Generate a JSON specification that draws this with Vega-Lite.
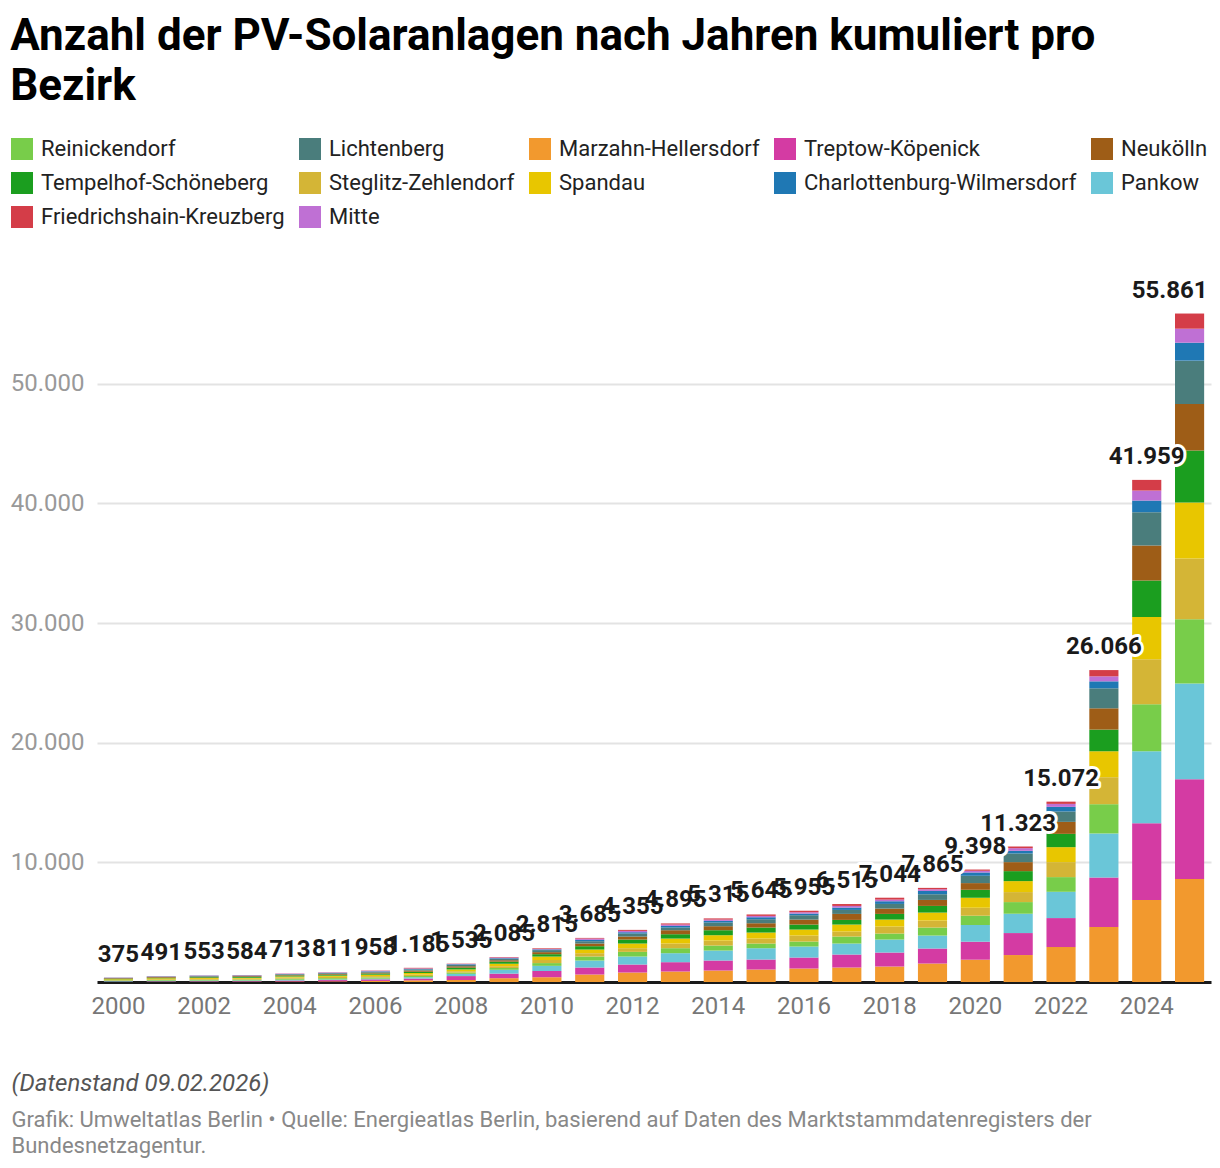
{
"$schema":"https://vega.github.io/schema/vega-lite/v6.json",
"width":1114,"height":718,
"padding":{"left":10,"top":15,"right":10,"bottom":10},
"autosize":{"type":"pad"},
"background":"white",
"title":{"text":["Anzahl der PV-Solaranlagen nach Jahren kumuliert pro","Bezirk"],"anchor":"start","frame":"bounds","font":"Roboto","fontSize":44,"fontWeight":"bold","color":"#000000","lineHeight":50,"offset":29},
"data":{"values":[
{"Jahr":2000,"Bezirk":"Marzahn-Hellersdorf","Anzahl":15},{"Jahr":2000,"Bezirk":"Treptow-Köpenick","Anzahl":20},{"Jahr":2000,"Bezirk":"Pankow","Anzahl":45},{"Jahr":2000,"Bezirk":"Reinickendorf","Anzahl":50},{"Jahr":2000,"Bezirk":"Steglitz-Zehlendorf","Anzahl":40},{"Jahr":2000,"Bezirk":"Spandau","Anzahl":60},{"Jahr":2000,"Bezirk":"Tempelhof-Schöneberg","Anzahl":40},{"Jahr":2000,"Bezirk":"Neukölln","Anzahl":50},{"Jahr":2000,"Bezirk":"Lichtenberg","Anzahl":25},{"Jahr":2000,"Bezirk":"Charlottenburg-Wilmersdorf","Anzahl":10},{"Jahr":2000,"Bezirk":"Mitte","Anzahl":15},{"Jahr":2000,"Bezirk":"Friedrichshain-Kreuzberg","Anzahl":5},
{"Jahr":2001,"Bezirk":"Marzahn-Hellersdorf","Anzahl":20},{"Jahr":2001,"Bezirk":"Treptow-Köpenick","Anzahl":40},{"Jahr":2001,"Bezirk":"Pankow","Anzahl":50},{"Jahr":2001,"Bezirk":"Reinickendorf","Anzahl":60},{"Jahr":2001,"Bezirk":"Steglitz-Zehlendorf","Anzahl":60},{"Jahr":2001,"Bezirk":"Spandau","Anzahl":80},{"Jahr":2001,"Bezirk":"Tempelhof-Schöneberg","Anzahl":50},{"Jahr":2001,"Bezirk":"Neukölln","Anzahl":60},{"Jahr":2001,"Bezirk":"Lichtenberg","Anzahl":30},{"Jahr":2001,"Bezirk":"Charlottenburg-Wilmersdorf","Anzahl":15},{"Jahr":2001,"Bezirk":"Mitte","Anzahl":18},{"Jahr":2001,"Bezirk":"Friedrichshain-Kreuzberg","Anzahl":8},
{"Jahr":2002,"Bezirk":"Marzahn-Hellersdorf","Anzahl":20},{"Jahr":2002,"Bezirk":"Treptow-Köpenick","Anzahl":45},{"Jahr":2002,"Bezirk":"Pankow","Anzahl":55},{"Jahr":2002,"Bezirk":"Reinickendorf","Anzahl":70},{"Jahr":2002,"Bezirk":"Steglitz-Zehlendorf","Anzahl":70},{"Jahr":2002,"Bezirk":"Spandau","Anzahl":80},{"Jahr":2002,"Bezirk":"Tempelhof-Schöneberg","Anzahl":60},{"Jahr":2002,"Bezirk":"Neukölln","Anzahl":50},{"Jahr":2002,"Bezirk":"Lichtenberg","Anzahl":50},{"Jahr":2002,"Bezirk":"Charlottenburg-Wilmersdorf","Anzahl":25},{"Jahr":2002,"Bezirk":"Mitte","Anzahl":20},{"Jahr":2002,"Bezirk":"Friedrichshain-Kreuzberg","Anzahl":8},
{"Jahr":2003,"Bezirk":"Marzahn-Hellersdorf","Anzahl":22},{"Jahr":2003,"Bezirk":"Treptow-Köpenick","Anzahl":50},{"Jahr":2003,"Bezirk":"Pankow","Anzahl":60},{"Jahr":2003,"Bezirk":"Reinickendorf","Anzahl":70},{"Jahr":2003,"Bezirk":"Steglitz-Zehlendorf","Anzahl":70},{"Jahr":2003,"Bezirk":"Spandau","Anzahl":80},{"Jahr":2003,"Bezirk":"Tempelhof-Schöneberg","Anzahl":65},{"Jahr":2003,"Bezirk":"Neukölln","Anzahl":65},{"Jahr":2003,"Bezirk":"Lichtenberg","Anzahl":45},{"Jahr":2003,"Bezirk":"Charlottenburg-Wilmersdorf","Anzahl":20},{"Jahr":2003,"Bezirk":"Mitte","Anzahl":25},{"Jahr":2003,"Bezirk":"Friedrichshain-Kreuzberg","Anzahl":12},
{"Jahr":2004,"Bezirk":"Marzahn-Hellersdorf","Anzahl":40},{"Jahr":2004,"Bezirk":"Treptow-Köpenick","Anzahl":80},{"Jahr":2004,"Bezirk":"Pankow","Anzahl":70},{"Jahr":2004,"Bezirk":"Reinickendorf","Anzahl":90},{"Jahr":2004,"Bezirk":"Steglitz-Zehlendorf","Anzahl":100},{"Jahr":2004,"Bezirk":"Spandau","Anzahl":80},{"Jahr":2004,"Bezirk":"Tempelhof-Schöneberg","Anzahl":80},{"Jahr":2004,"Bezirk":"Neukölln","Anzahl":60},{"Jahr":2004,"Bezirk":"Lichtenberg","Anzahl":50},{"Jahr":2004,"Bezirk":"Charlottenburg-Wilmersdorf","Anzahl":20},{"Jahr":2004,"Bezirk":"Mitte","Anzahl":30},{"Jahr":2004,"Bezirk":"Friedrichshain-Kreuzberg","Anzahl":13},
{"Jahr":2005,"Bezirk":"Marzahn-Hellersdorf","Anzahl":50},{"Jahr":2005,"Bezirk":"Treptow-Köpenick","Anzahl":110},{"Jahr":2005,"Bezirk":"Pankow","Anzahl":60},{"Jahr":2005,"Bezirk":"Reinickendorf","Anzahl":100},{"Jahr":2005,"Bezirk":"Steglitz-Zehlendorf","Anzahl":110},{"Jahr":2005,"Bezirk":"Spandau","Anzahl":100},{"Jahr":2005,"Bezirk":"Tempelhof-Schöneberg","Anzahl":80},{"Jahr":2005,"Bezirk":"Neukölln","Anzahl":70},{"Jahr":2005,"Bezirk":"Lichtenberg","Anzahl":60},{"Jahr":2005,"Bezirk":"Charlottenburg-Wilmersdorf","Anzahl":25},{"Jahr":2005,"Bezirk":"Mitte","Anzahl":30},{"Jahr":2005,"Bezirk":"Friedrichshain-Kreuzberg","Anzahl":16},
{"Jahr":2006,"Bezirk":"Marzahn-Hellersdorf","Anzahl":90},{"Jahr":2006,"Bezirk":"Treptow-Köpenick","Anzahl":130},{"Jahr":2006,"Bezirk":"Pankow","Anzahl":60},{"Jahr":2006,"Bezirk":"Reinickendorf","Anzahl":100},{"Jahr":2006,"Bezirk":"Steglitz-Zehlendorf","Anzahl":110},{"Jahr":2006,"Bezirk":"Spandau","Anzahl":120},{"Jahr":2006,"Bezirk":"Tempelhof-Schöneberg","Anzahl":100},{"Jahr":2006,"Bezirk":"Neukölln","Anzahl":70},{"Jahr":2006,"Bezirk":"Lichtenberg","Anzahl":80},{"Jahr":2006,"Bezirk":"Charlottenburg-Wilmersdorf","Anzahl":35},{"Jahr":2006,"Bezirk":"Mitte","Anzahl":40},{"Jahr":2006,"Bezirk":"Friedrichshain-Kreuzberg","Anzahl":23},
{"Jahr":2007,"Bezirk":"Marzahn-Hellersdorf","Anzahl":140},{"Jahr":2007,"Bezirk":"Treptow-Köpenick","Anzahl":150},{"Jahr":2007,"Bezirk":"Pankow","Anzahl":110},{"Jahr":2007,"Bezirk":"Reinickendorf","Anzahl":100},{"Jahr":2007,"Bezirk":"Steglitz-Zehlendorf","Anzahl":120},{"Jahr":2007,"Bezirk":"Spandau","Anzahl":130},{"Jahr":2007,"Bezirk":"Tempelhof-Schöneberg","Anzahl":110},{"Jahr":2007,"Bezirk":"Neukölln","Anzahl":100},{"Jahr":2007,"Bezirk":"Lichtenberg","Anzahl":90},{"Jahr":2007,"Bezirk":"Charlottenburg-Wilmersdorf","Anzahl":50},{"Jahr":2007,"Bezirk":"Mitte","Anzahl":35},{"Jahr":2007,"Bezirk":"Friedrichshain-Kreuzberg","Anzahl":50},
{"Jahr":2008,"Bezirk":"Marzahn-Hellersdorf","Anzahl":165},{"Jahr":2008,"Bezirk":"Treptow-Köpenick","Anzahl":330},{"Jahr":2008,"Bezirk":"Pankow","Anzahl":185},{"Jahr":2008,"Bezirk":"Reinickendorf","Anzahl":110},{"Jahr":2008,"Bezirk":"Steglitz-Zehlendorf","Anzahl":110},{"Jahr":2008,"Bezirk":"Spandau","Anzahl":150},{"Jahr":2008,"Bezirk":"Tempelhof-Schöneberg","Anzahl":145},{"Jahr":2008,"Bezirk":"Neukölln","Anzahl":120},{"Jahr":2008,"Bezirk":"Lichtenberg","Anzahl":120},{"Jahr":2008,"Bezirk":"Charlottenburg-Wilmersdorf","Anzahl":50},{"Jahr":2008,"Bezirk":"Mitte","Anzahl":25},{"Jahr":2008,"Bezirk":"Friedrichshain-Kreuzberg","Anzahl":25},
{"Jahr":2009,"Bezirk":"Marzahn-Hellersdorf","Anzahl":320},{"Jahr":2009,"Bezirk":"Treptow-Köpenick","Anzahl":380},{"Jahr":2009,"Bezirk":"Pankow","Anzahl":320},{"Jahr":2009,"Bezirk":"Reinickendorf","Anzahl":150},{"Jahr":2009,"Bezirk":"Steglitz-Zehlendorf","Anzahl":150},{"Jahr":2009,"Bezirk":"Spandau","Anzahl":205},{"Jahr":2009,"Bezirk":"Tempelhof-Schöneberg","Anzahl":175},{"Jahr":2009,"Bezirk":"Neukölln","Anzahl":120},{"Jahr":2009,"Bezirk":"Lichtenberg","Anzahl":115},{"Jahr":2009,"Bezirk":"Charlottenburg-Wilmersdorf","Anzahl":55},{"Jahr":2009,"Bezirk":"Mitte","Anzahl":55},{"Jahr":2009,"Bezirk":"Friedrichshain-Kreuzberg","Anzahl":40},
{"Jahr":2010,"Bezirk":"Marzahn-Hellersdorf","Anzahl":400},{"Jahr":2010,"Bezirk":"Treptow-Köpenick","Anzahl":520},{"Jahr":2010,"Bezirk":"Pankow","Anzahl":430},{"Jahr":2010,"Bezirk":"Reinickendorf","Anzahl":230},{"Jahr":2010,"Bezirk":"Steglitz-Zehlendorf","Anzahl":260},{"Jahr":2010,"Bezirk":"Spandau","Anzahl":285},{"Jahr":2010,"Bezirk":"Tempelhof-Schöneberg","Anzahl":200},{"Jahr":2010,"Bezirk":"Neukölln","Anzahl":170},{"Jahr":2010,"Bezirk":"Lichtenberg","Anzahl":170},{"Jahr":2010,"Bezirk":"Charlottenburg-Wilmersdorf","Anzahl":60},{"Jahr":2010,"Bezirk":"Mitte","Anzahl":35},{"Jahr":2010,"Bezirk":"Friedrichshain-Kreuzberg","Anzahl":55},
{"Jahr":2011,"Bezirk":"Marzahn-Hellersdorf","Anzahl":626},{"Jahr":2011,"Bezirk":"Treptow-Köpenick","Anzahl":584},{"Jahr":2011,"Bezirk":"Pankow","Anzahl":585},{"Jahr":2011,"Bezirk":"Reinickendorf","Anzahl":334},{"Jahr":2011,"Bezirk":"Steglitz-Zehlendorf","Anzahl":278},{"Jahr":2011,"Bezirk":"Spandau","Anzahl":306},{"Jahr":2011,"Bezirk":"Tempelhof-Schöneberg","Anzahl":278},{"Jahr":2011,"Bezirk":"Neukölln","Anzahl":223},{"Jahr":2011,"Bezirk":"Lichtenberg","Anzahl":195},{"Jahr":2011,"Bezirk":"Charlottenburg-Wilmersdorf","Anzahl":111},{"Jahr":2011,"Bezirk":"Mitte","Anzahl":111},{"Jahr":2011,"Bezirk":"Friedrichshain-Kreuzberg","Anzahl":54},
{"Jahr":2012,"Bezirk":"Marzahn-Hellersdorf","Anzahl":793},{"Jahr":2012,"Bezirk":"Treptow-Köpenick","Anzahl":668},{"Jahr":2012,"Bezirk":"Pankow","Anzahl":668},{"Jahr":2012,"Bezirk":"Reinickendorf","Anzahl":389},{"Jahr":2012,"Bezirk":"Steglitz-Zehlendorf","Anzahl":306},{"Jahr":2012,"Bezirk":"Spandau","Anzahl":390},{"Jahr":2012,"Bezirk":"Tempelhof-Schöneberg","Anzahl":333},{"Jahr":2012,"Bezirk":"Neukölln","Anzahl":251},{"Jahr":2012,"Bezirk":"Lichtenberg","Anzahl":250},{"Jahr":2012,"Bezirk":"Charlottenburg-Wilmersdorf","Anzahl":112},{"Jahr":2012,"Bezirk":"Mitte","Anzahl":111},{"Jahr":2012,"Bezirk":"Friedrichshain-Kreuzberg","Anzahl":84},
{"Jahr":2013,"Bezirk":"Marzahn-Hellersdorf","Anzahl":876},{"Jahr":2013,"Bezirk":"Treptow-Köpenick","Anzahl":780},{"Jahr":2013,"Bezirk":"Pankow","Anzahl":751},{"Jahr":2013,"Bezirk":"Reinickendorf","Anzahl":417},{"Jahr":2013,"Bezirk":"Steglitz-Zehlendorf","Anzahl":390},{"Jahr":2013,"Bezirk":"Spandau","Anzahl":417},{"Jahr":2013,"Bezirk":"Tempelhof-Schöneberg","Anzahl":362},{"Jahr":2013,"Bezirk":"Neukölln","Anzahl":334},{"Jahr":2013,"Bezirk":"Lichtenberg","Anzahl":222},{"Jahr":2013,"Bezirk":"Charlottenburg-Wilmersdorf","Anzahl":139},{"Jahr":2013,"Bezirk":"Mitte","Anzahl":112},{"Jahr":2013,"Bezirk":"Friedrichshain-Kreuzberg","Anzahl":95},
{"Jahr":2014,"Bezirk":"Marzahn-Hellersdorf","Anzahl":960},{"Jahr":2014,"Bezirk":"Treptow-Köpenick","Anzahl":835},{"Jahr":2014,"Bezirk":"Pankow","Anzahl":834},{"Jahr":2014,"Bezirk":"Reinickendorf","Anzahl":418},{"Jahr":2014,"Bezirk":"Steglitz-Zehlendorf","Anzahl":417},{"Jahr":2014,"Bezirk":"Spandau","Anzahl":446},{"Jahr":2014,"Bezirk":"Tempelhof-Schöneberg","Anzahl":417},{"Jahr":2014,"Bezirk":"Neukölln","Anzahl":334},{"Jahr":2014,"Bezirk":"Lichtenberg","Anzahl":306},{"Jahr":2014,"Bezirk":"Charlottenburg-Wilmersdorf","Anzahl":139},{"Jahr":2014,"Bezirk":"Mitte","Anzahl":111},{"Jahr":2014,"Bezirk":"Friedrichshain-Kreuzberg","Anzahl":98},
{"Jahr":2015,"Bezirk":"Marzahn-Hellersdorf","Anzahl":1043},{"Jahr":2015,"Bezirk":"Treptow-Köpenick","Anzahl":835},{"Jahr":2015,"Bezirk":"Pankow","Anzahl":946},{"Jahr":2015,"Bezirk":"Reinickendorf","Anzahl":390},{"Jahr":2015,"Bezirk":"Steglitz-Zehlendorf","Anzahl":417},{"Jahr":2015,"Bezirk":"Spandau","Anzahl":501},{"Jahr":2015,"Bezirk":"Tempelhof-Schöneberg","Anzahl":417},{"Jahr":2015,"Bezirk":"Neukölln","Anzahl":362},{"Jahr":2015,"Bezirk":"Lichtenberg","Anzahl":334},{"Jahr":2015,"Bezirk":"Charlottenburg-Wilmersdorf","Anzahl":167},{"Jahr":2015,"Bezirk":"Mitte","Anzahl":111},{"Jahr":2015,"Bezirk":"Friedrichshain-Kreuzberg","Anzahl":122},
{"Jahr":2016,"Bezirk":"Marzahn-Hellersdorf","Anzahl":1127},{"Jahr":2016,"Bezirk":"Treptow-Köpenick","Anzahl":918},{"Jahr":2016,"Bezirk":"Pankow","Anzahl":918},{"Jahr":2016,"Bezirk":"Reinickendorf","Anzahl":418},{"Jahr":2016,"Bezirk":"Steglitz-Zehlendorf","Anzahl":500},{"Jahr":2016,"Bezirk":"Spandau","Anzahl":501},{"Jahr":2016,"Bezirk":"Tempelhof-Schöneberg","Anzahl":418},{"Jahr":2016,"Bezirk":"Neukölln","Anzahl":417},{"Jahr":2016,"Bezirk":"Lichtenberg","Anzahl":362},{"Jahr":2016,"Bezirk":"Charlottenburg-Wilmersdorf","Anzahl":139},{"Jahr":2016,"Bezirk":"Mitte","Anzahl":111},{"Jahr":2016,"Bezirk":"Friedrichshain-Kreuzberg","Anzahl":126},
{"Jahr":2017,"Bezirk":"Marzahn-Hellersdorf","Anzahl":1210},{"Jahr":2017,"Bezirk":"Treptow-Köpenick","Anzahl":1085},{"Jahr":2017,"Bezirk":"Pankow","Anzahl":919},{"Jahr":2017,"Bezirk":"Reinickendorf","Anzahl":584},{"Jahr":2017,"Bezirk":"Steglitz-Zehlendorf","Anzahl":417},{"Jahr":2017,"Bezirk":"Spandau","Anzahl":585},{"Jahr":2017,"Bezirk":"Tempelhof-Schöneberg","Anzahl":389},{"Jahr":2017,"Bezirk":"Neukölln","Anzahl":501},{"Jahr":2017,"Bezirk":"Lichtenberg","Anzahl":334},{"Jahr":2017,"Bezirk":"Charlottenburg-Wilmersdorf","Anzahl":195},{"Jahr":2017,"Bezirk":"Mitte","Anzahl":139},{"Jahr":2017,"Bezirk":"Friedrichshain-Kreuzberg","Anzahl":157},
{"Jahr":2018,"Bezirk":"Marzahn-Hellersdorf","Anzahl":1294},{"Jahr":2018,"Bezirk":"Treptow-Köpenick","Anzahl":1168},{"Jahr":2018,"Bezirk":"Pankow","Anzahl":1085},{"Jahr":2018,"Bezirk":"Reinickendorf","Anzahl":501},{"Jahr":2018,"Bezirk":"Steglitz-Zehlendorf","Anzahl":585},{"Jahr":2018,"Bezirk":"Spandau","Anzahl":584},{"Jahr":2018,"Bezirk":"Tempelhof-Schöneberg","Anzahl":473},{"Jahr":2018,"Bezirk":"Neukölln","Anzahl":445},{"Jahr":2018,"Bezirk":"Lichtenberg","Anzahl":390},{"Jahr":2018,"Bezirk":"Charlottenburg-Wilmersdorf","Anzahl":223},{"Jahr":2018,"Bezirk":"Mitte","Anzahl":139},{"Jahr":2018,"Bezirk":"Friedrichshain-Kreuzberg","Anzahl":157},
{"Jahr":2019,"Bezirk":"Marzahn-Hellersdorf","Anzahl":1544},{"Jahr":2019,"Bezirk":"Treptow-Köpenick","Anzahl":1253},{"Jahr":2019,"Bezirk":"Pankow","Anzahl":1084},{"Jahr":2019,"Bezirk":"Reinickendorf","Anzahl":668},{"Jahr":2019,"Bezirk":"Steglitz-Zehlendorf","Anzahl":585},{"Jahr":2019,"Bezirk":"Spandau","Anzahl":667},{"Jahr":2019,"Bezirk":"Tempelhof-Schöneberg","Anzahl":557},{"Jahr":2019,"Bezirk":"Neukölln","Anzahl":501},{"Jahr":2019,"Bezirk":"Lichtenberg","Anzahl":473},{"Jahr":2019,"Bezirk":"Charlottenburg-Wilmersdorf","Anzahl":278},{"Jahr":2019,"Bezirk":"Mitte","Anzahl":139},{"Jahr":2019,"Bezirk":"Friedrichshain-Kreuzberg","Anzahl":116},
{"Jahr":2020,"Bezirk":"Marzahn-Hellersdorf","Anzahl":1864},{"Jahr":2020,"Bezirk":"Treptow-Köpenick","Anzahl":1503},{"Jahr":2020,"Bezirk":"Pankow","Anzahl":1395},{"Jahr":2020,"Bezirk":"Reinickendorf","Anzahl":776},{"Jahr":2020,"Bezirk":"Steglitz-Zehlendorf","Anzahl":668},{"Jahr":2020,"Bezirk":"Spandau","Anzahl":834},{"Jahr":2020,"Bezirk":"Tempelhof-Schöneberg","Anzahl":667},{"Jahr":2020,"Bezirk":"Neukölln","Anzahl":557},{"Jahr":2020,"Bezirk":"Lichtenberg","Anzahl":612},{"Jahr":2020,"Bezirk":"Charlottenburg-Wilmersdorf","Anzahl":278},{"Jahr":2020,"Bezirk":"Mitte","Anzahl":139},{"Jahr":2020,"Bezirk":"Friedrichshain-Kreuzberg","Anzahl":105},
{"Jahr":2021,"Bezirk":"Marzahn-Hellersdorf","Anzahl":2253},{"Jahr":2021,"Bezirk":"Treptow-Köpenick","Anzahl":1837},{"Jahr":2021,"Bezirk":"Pankow","Anzahl":1615},{"Jahr":2021,"Bezirk":"Reinickendorf","Anzahl":973},{"Jahr":2021,"Bezirk":"Steglitz-Zehlendorf","Anzahl":835},{"Jahr":2021,"Bezirk":"Spandau","Anzahl":918},{"Jahr":2021,"Bezirk":"Tempelhof-Schöneberg","Anzahl":834},{"Jahr":2021,"Bezirk":"Neukölln","Anzahl":752},{"Jahr":2021,"Bezirk":"Lichtenberg","Anzahl":723},{"Jahr":2021,"Bezirk":"Charlottenburg-Wilmersdorf","Anzahl":222},{"Jahr":2021,"Bezirk":"Mitte","Anzahl":223},{"Jahr":2021,"Bezirk":"Friedrichshain-Kreuzberg","Anzahl":138},
{"Jahr":2022,"Bezirk":"Marzahn-Hellersdorf","Anzahl":2922},{"Jahr":2022,"Bezirk":"Treptow-Köpenick","Anzahl":2420},{"Jahr":2022,"Bezirk":"Pankow","Anzahl":2196},{"Jahr":2022,"Bezirk":"Reinickendorf","Anzahl":1227},{"Jahr":2022,"Bezirk":"Steglitz-Zehlendorf","Anzahl":1252},{"Jahr":2022,"Bezirk":"Spandau","Anzahl":1252},{"Jahr":2022,"Bezirk":"Tempelhof-Schöneberg","Anzahl":1110},{"Jahr":2022,"Bezirk":"Neukölln","Anzahl":1002},{"Jahr":2022,"Bezirk":"Lichtenberg","Anzahl":868},{"Jahr":2022,"Bezirk":"Charlottenburg-Wilmersdorf","Anzahl":384},{"Jahr":2022,"Bezirk":"Mitte","Anzahl":250},{"Jahr":2022,"Bezirk":"Friedrichshain-Kreuzberg","Anzahl":189},
{"Jahr":2023,"Bezirk":"Marzahn-Hellersdorf","Anzahl":4591},{"Jahr":2023,"Bezirk":"Treptow-Köpenick","Anzahl":4149},{"Jahr":2023,"Bezirk":"Pankow","Anzahl":3672},{"Jahr":2023,"Bezirk":"Reinickendorf","Anzahl":2446},{"Jahr":2023,"Bezirk":"Steglitz-Zehlendorf","Anzahl":2254},{"Jahr":2023,"Bezirk":"Spandau","Anzahl":2170},{"Jahr":2023,"Bezirk":"Tempelhof-Schöneberg","Anzahl":1811},{"Jahr":2023,"Bezirk":"Neukölln","Anzahl":1778},{"Jahr":2023,"Bezirk":"Lichtenberg","Anzahl":1670},{"Jahr":2023,"Bezirk":"Charlottenburg-Wilmersdorf","Anzahl":584},{"Jahr":2023,"Bezirk":"Mitte","Anzahl":418},{"Jahr":2023,"Bezirk":"Friedrichshain-Kreuzberg","Anzahl":523},
{"Jahr":2024,"Bezirk":"Marzahn-Hellersdorf","Anzahl":6845},{"Jahr":2024,"Bezirk":"Treptow-Köpenick","Anzahl":6427},{"Jahr":2024,"Bezirk":"Pankow","Anzahl":6010},{"Jahr":2024,"Bezirk":"Reinickendorf","Anzahl":3923},{"Jahr":2024,"Bezirk":"Steglitz-Zehlendorf","Anzahl":3757},{"Jahr":2024,"Bezirk":"Spandau","Anzahl":3533},{"Jahr":2024,"Bezirk":"Tempelhof-Schöneberg","Anzahl":3061},{"Jahr":2024,"Bezirk":"Neukölln","Anzahl":2921},{"Jahr":2024,"Bezirk":"Lichtenberg","Anzahl":2783},{"Jahr":2024,"Bezirk":"Charlottenburg-Wilmersdorf","Anzahl":974},{"Jahr":2024,"Bezirk":"Mitte","Anzahl":834},{"Jahr":2024,"Bezirk":"Friedrichshain-Kreuzberg","Anzahl":891},
{"Jahr":2025,"Bezirk":"Marzahn-Hellersdorf","Anzahl":8600},{"Jahr":2025,"Bezirk":"Treptow-Köpenick","Anzahl":8345},{"Jahr":2025,"Bezirk":"Pankow","Anzahl":7990},{"Jahr":2025,"Bezirk":"Reinickendorf","Anzahl":5370},{"Jahr":2025,"Bezirk":"Steglitz-Zehlendorf","Anzahl":5090},{"Jahr":2025,"Bezirk":"Spandau","Anzahl":4675},{"Jahr":2025,"Bezirk":"Tempelhof-Schöneberg","Anzahl":4340},{"Jahr":2025,"Bezirk":"Neukölln","Anzahl":3900},{"Jahr":2025,"Bezirk":"Lichtenberg","Anzahl":3614},{"Jahr":2025,"Bezirk":"Charlottenburg-Wilmersdorf","Anzahl":1500},{"Jahr":2025,"Bezirk":"Mitte","Anzahl":1170},{"Jahr":2025,"Bezirk":"Friedrichshain-Kreuzberg","Anzahl":1267}
]},
"layer":[
{"transform":[{"calculate":"indexof(['Marzahn-Hellersdorf','Treptow-Köpenick','Pankow','Reinickendorf','Steglitz-Zehlendorf','Spandau','Tempelhof-Schöneberg','Neukölln','Lichtenberg','Charlottenburg-Wilmersdorf','Mitte','Friedrichshain-Kreuzberg'], datum.Bezirk)","as":"Stapelfolge"}],
 "mark":{"type":"bar"},
 "encoding":{
  "x":{"field":"Jahr","type":"ordinal","scale":{"paddingInner":0.32,"paddingOuter":0.16},
   "axis":{"values":[2000,2002,2004,2006,2008,2010,2012,2014,2016,2018,2020,2022,2024],"labelAngle":0,"ticks":false,"grid":false,"domainColor":"#1a1a1a","domainWidth":3,"labelFont":"Roboto","labelFontSize":24,"labelColor":"#777777","labelPadding":12,
    "title":"(Datenstand 09.02.2026)","titleFont":"Roboto","titleFontSize":24,"titleFontStyle":"italic","titleFontWeight":"normal","titleColor":"#555555","titleX":-86,"titleY":108,"titleAlign":"left","titleBaseline":"alphabetic"}},
  "y":{"field":"Anzahl","type":"quantitative","stack":"zero","scale":{"domain":[0,60000],"nice":false},
   "axis":{"values":[10000,20000,30000,40000,50000],"format":",d","domain":false,"ticks":false,"labelFont":"Roboto","labelFontSize":24,"labelColor":"#999999","labelPadding":13,"gridColor":"#e3e3e3","gridWidth":2,
    "title":["Grafik: Umweltatlas Berlin • Quelle: Energieatlas Berlin, basierend auf Daten des Marktstammdatenregisters der","Bundesnetzagentur."],"titleAngle":0,"titleX":-86,"titleY":862,"titleAlign":"left","titleBaseline":"alphabetic","titleFont":"Roboto","titleFontSize":22,"titleFontWeight":"normal","titleColor":"#888888","titleLineHeight":26}},
  "order":{"field":"Stapelfolge","type":"quantitative","sort":"ascending"},
  "color":{"field":"Bezirk","type":"nominal",
   "scale":{"domain":["Reinickendorf","Lichtenberg","Marzahn-Hellersdorf","Treptow-Köpenick","Neukölln","Tempelhof-Schöneberg","Steglitz-Zehlendorf","Spandau","Charlottenburg-Wilmersdorf","Pankow","Friedrichshain-Kreuzberg","Mitte"],
    "range":["#78cd4a","#4a7d7c","#f2992e","#d43ba3","#9e5d17","#1b9e1f","#d4b536","#e8c600","#1f78b4","#6ac6d8","#d43d48","#bf70d4"]},
   "legend":{"orient":"none","legendX":-86,"legendY":-126,"direction":"horizontal","columns":5,"title":null,"symbolType":"square","symbolSize":484,"symbolStrokeWidth":0,"symbolOpacity":1,"labelFont":"Roboto","labelFontSize":22,"labelColor":"#222222","labelOffset":8,"columnPadding":14,"rowPadding":12,"labelLimit":500}}
 }},
{"transform":[{"aggregate":[{"op":"sum","field":"Anzahl","as":"Summe"}],"groupby":["Jahr"]}],
 "mark":{"type":"text","font":"Roboto","fontSize":24,"fontWeight":"bold","fill":"white","stroke":"white","strokeWidth":6,"strokeJoin":"round","baseline":"middle","dy":-23,"dx":{"expr":"datum.Jahr == 2025 ? -20 : 0"}},
 "encoding":{"x":{"field":"Jahr","type":"ordinal"},"y":{"field":"Summe","type":"quantitative"},"text":{"field":"Summe","type":"quantitative","format":",d"}}},
{"transform":[{"aggregate":[{"op":"sum","field":"Anzahl","as":"Summe"}],"groupby":["Jahr"]}],
 "mark":{"type":"text","font":"Roboto","fontSize":24,"fontWeight":"bold","fill":"#1a1a1a","baseline":"middle","dy":-23,"dx":{"expr":"datum.Jahr == 2025 ? -20 : 0"}},
 "encoding":{"x":{"field":"Jahr","type":"ordinal"},"y":{"field":"Summe","type":"quantitative"},"text":{"field":"Summe","type":"quantitative","format":",d"}}}
],
"config":{"view":{"stroke":null},"font":"Roboto","locale":{"number":{"decimal":",","thousands":".","grouping":[3],"currency":["","€"]}}}
}
